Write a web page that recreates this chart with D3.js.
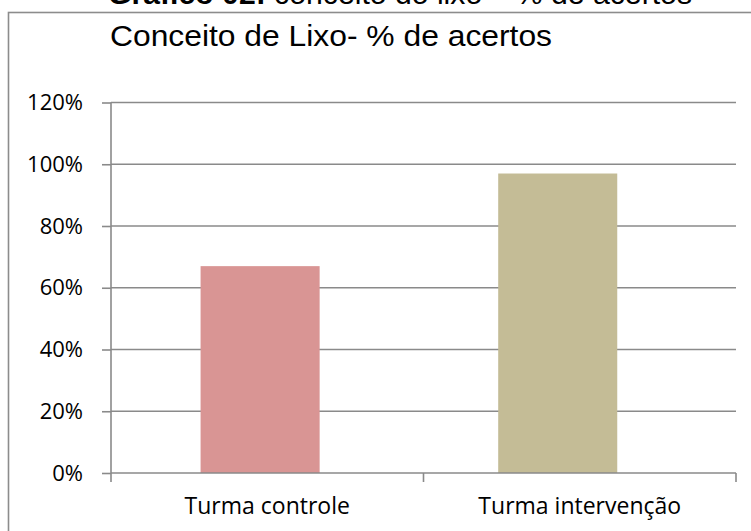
<!DOCTYPE html>
<html>
  <head>
    <meta charset="utf-8">
    <title>Conceito de Lixo</title>
    <script src="https://cdn.jsdelivr.net/npm/d3@7"></script>
    <style>
      body { margin: 0; background: #fff; }
      svg { display: block; }
      .tick text { font-family: "Open Sans", sans-serif; font-size: 22px; fill: #000; }
      .x-axis .tick text { font-size: 23px; }
    </style>
  </head>
  <body>
    <svg id="chart" width="751" height="531"></svg>

    <script>
      // data
      const categories = ["Turma controle", "Turma intervenção"];
      const values = [0.67, 0.97];
      const yTicks = [0, 0.2, 0.4, 0.6, 0.8, 1.0, 1.2];
      const barColours = ["#d99594", "#c4bc96"];
      const axisColour = "#8a8a8a";

      const svg = d3.select("#chart");
      const plot = { left: 111, right: 736, top: 102.5, bottom: 473 };

      // outer frame (runs off the page to the right and bottom)
      svg.append("rect")
        .attr("x", 8.5)
        .attr("y", 12.5)
        .attr("width", 800)
        .attr("height", 600)
        .attr("fill", "none")
        .attr("stroke", "#8c8c8c")
        .attr("stroke-width", 1.6);

      // caption above the frame, cut off by the page top as in the source
      const caption = svg.append("text")
        .attr("x", 108)
        .attr("y", 4)
        .attr("textLength", 584)
        .attr("lengthAdjust", "spacingAndGlyphs")
        .style("font-family", "'Liberation Sans', Arial, sans-serif")
        .style("font-size", "29px");
      caption.append("tspan").style("font-weight", "bold").text("Gráfico 02:");
      caption.append("tspan").text(" conceito do lixo – % de acertos");

      // chart title
      svg.append("text")
        .attr("x", 110)
        .attr("y", 45.5)
        .attr("textLength", 442)
        .attr("lengthAdjust", "spacingAndGlyphs")
        .style("font-family", "'Liberation Sans', Arial, sans-serif")
        .style("font-size", "30px")
        .text("Conceito de Lixo- % de acertos");

      // scales
      const x = d3.scaleBand()
        .domain(categories)
        .range([plot.left, plot.right]);
      const xBar = d3.scaleBand()
        .domain(categories)
        .range([plot.left, plot.right])
        .paddingInner(0.6)
        .paddingOuter(0.35)
        .align(0.43);
      const y = d3.scaleLinear()
        .domain([0, 1.2])
        .range([plot.bottom, plot.top]);

      // gridlines
      svg.append("g")
        .selectAll("line")
        .data(yTicks.filter(d => d > 0))
        .join("line")
          .attr("x1", plot.left)
          .attr("x2", plot.right)
          .attr("y1", d => y(d))
          .attr("y2", d => y(d))
          .attr("stroke", axisColour)
          .attr("stroke-width", 1.6);

      // bars
      svg.append("g")
        .selectAll("rect")
        .data(values)
        .join("rect")
          .attr("x", (d, i) => xBar(categories[i]))
          .attr("width", xBar.bandwidth())
          .attr("y", d => y(d))
          .attr("height", d => y(0) - y(d))
          .attr("fill", (d, i) => barColours[i]);

      // y axis
      const yAxis = svg.append("g")
        .attr("transform", `translate(${plot.left},0)`)
        .call(d3.axisLeft(y)
          .tickValues(yTicks)
          .tickFormat(d3.format(".0%"))
          .tickSize(9)
          .tickPadding(19));
      yAxis.select(".domain").remove();
      yAxis.selectAll(".tick line")
        .attr("stroke", axisColour)
        .attr("stroke-width", 1.6);
      svg.append("line")
        .attr("x1", plot.left).attr("x2", plot.left)
        .attr("y1", plot.top).attr("y2", plot.bottom + 9)
        .attr("stroke", axisColour)
        .attr("stroke-width", 1.6);

      // x axis: labels at band centres, ticks on band edges
      const xAxis = svg.append("g")
        .attr("class", "x-axis")
        .attr("transform", `translate(0,${plot.bottom})`)
        .call(d3.axisBottom(x).tickSize(0).tickPadding(25));
      xAxis.select(".domain").remove();
      svg.append("line")
        .attr("x1", plot.left).attr("x2", plot.right)
        .attr("y1", plot.bottom).attr("y2", plot.bottom)
        .attr("stroke", axisColour)
        .attr("stroke-width", 1.6);
      const edges = categories.map(d => x(d) + x.bandwidth());
      svg.append("g")
        .selectAll("line")
        .data(edges)
        .join("line")
          .attr("x1", d => d).attr("x2", d => d)
          .attr("y1", plot.bottom).attr("y2", plot.bottom + 9)
          .attr("stroke", axisColour)
          .attr("stroke-width", 1.6);
    </script>
  </body>
</html>
